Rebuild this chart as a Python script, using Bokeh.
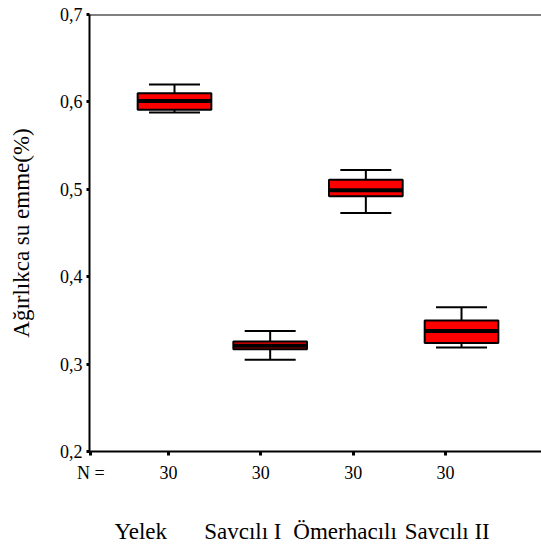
from bokeh.plotting import figure
from bokeh.models import (Range1d, LinearAxis, FixedTicker, Span,
                          CustomJSTickFormatter, ColumnDataSource)
from bokeh.embed import file_html
from bokeh.resources import INLINE

# Water absorption by weight (%) per quarry site, box-plot summary
sites = ["Yelek", "Savcılı I", "Ömerhacılı", "Savcılı II"]
n_obs = [30, 30, 30, 30]
lower = [0.588, 0.305, 0.473, 0.319]
q1 = [0.591, 0.317, 0.492, 0.324]
median = [0.601, 0.321, 0.499, 0.338]
q3 = [0.610, 0.326, 0.511, 0.350]
upper = [0.620, 0.338, 0.522, 0.365]
y_ticks = [0.2, 0.3, 0.4, 0.5, 0.6, 0.7]

pos = list(range(1, len(sites) + 1))
src = ColumnDataSource(dict(x=pos, lower=lower, q1=q1, median=median,
                            q3=q3, upper=upper))

FONT = "Liberation Serif"

p = figure(width=541, height=546, output_backend="svg", toolbar_location=None,
           x_range=Range1d(0.1115, 4.836), y_range=Range1d(0.2, 0.7),
           x_axis_location=None, y_axis_location="left",
           min_border_left=89, min_border_right=0, min_border_top=14,
           min_border_bottom=94)
p.outline_line_color = None
p.xgrid.visible = False
p.ygrid.visible = False
p.background_fill_color = "white"
p.border_fill_color = "white"

# separate scales for the N-count ticks and the site names underneath
n_range = Range1d(0.1444, 5.040)
p.extra_x_ranges = {"n": n_range, "lab": Range1d(0.499, 4.922)}

# y axis
ya = p.yaxis[0]
ya.ticker = FixedTicker(ticks=y_ticks)
ya.formatter = CustomJSTickFormatter(code="return tick.toFixed(1).replace('.', ',')")
ya.minor_tick_line_color = None
ya.major_tick_in = 0
ya.major_tick_out = 3
ya.major_tick_line_width = 3
ya.major_tick_line_color = "black"
ya.axis_line_width = 2
ya.major_label_standoff = 4
ya.major_label_text_font = FONT
ya.major_label_text_font_size = "18px"
ya.major_label_text_color = "black"
ya.axis_label = "Ağırlıkca su emme(%)"
ya.axis_label_text_font = FONT
ya.axis_label_text_font_size = "23px"
ya.axis_label_text_font_style = "normal"
ya.axis_label_text_color = "black"
ya.axis_label_standoff = 23

# bottom axis with the N counts; the first tick sits at the left corner and
# carries the "N =" caption
n_caption_at = n_range.start + 0.015
n_ticks = [n_caption_at] + pos
n_labels = {n_caption_at: "N ="}
n_labels.update({i: str(n) for i, n in zip(pos, n_obs)})
na = LinearAxis(x_range_name="n", ticker=FixedTicker(ticks=n_ticks),
                major_label_overrides=n_labels)
na.minor_tick_line_color = None
na.major_tick_in = 0
na.major_tick_out = 4
na.major_tick_line_width = 3
na.major_tick_line_color = "black"
na.axis_line_width = 2
na.major_label_standoff = 7
na.major_label_text_font = FONT
na.major_label_text_font_size = "18px"
na.major_label_text_color = "black"
p.add_layout(na, "below")

# site names
la = LinearAxis(x_range_name="lab", ticker=FixedTicker(ticks=pos),
                major_label_overrides={i: s for i, s in zip(pos, sites)})
la.axis_line_color = None
la.major_tick_line_color = None
la.minor_tick_line_color = None
la.major_label_standoff = 27
la.major_label_text_font = FONT
la.major_label_text_font_size = "23px"
la.major_label_text_color = "black"
p.add_layout(la, "below")

# top frame line
p.add_layout(Span(location=p.y_range.end, dimension="width",
                  line_color="black", line_width=2))

# whisker stems
p.segment(x0="x", y0="q3", x1="x", y1="upper", source=src,
          line_color="black", line_width=2)
p.segment(x0="x", y0="q1", x1="x", y1="lower", source=src,
          line_color="black", line_width=2)
# whisker caps
p.dash(x="x", y="upper", source=src, size=51, line_color="black", line_width=2)
p.dash(x="x", y="lower", source=src, size=51, line_color="black", line_width=2)
# boxes
p.vbar(x="x", bottom="q1", top="q3", width=0.77, source=src,
       fill_color="#ff0000", line_color="black", line_width=2)
# median bands
p.rect(x="x", y="median", width=0.77, height=4, height_units="screen",
       source=src, fill_color="black", line_color=None)

open("out.html", "w").write(file_html(p, INLINE))
